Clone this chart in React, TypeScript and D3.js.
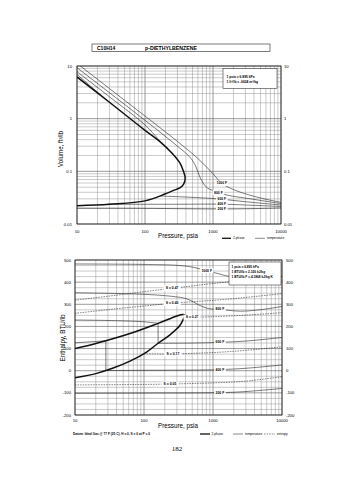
import React from 'react';
import * as d3 from 'd3';

type Pt = [number, number];

// ---------- ticks ----------
const pressureTicks = [10, 100, 1000, 10000];
const pressureTickLabels = ['10', '100', '1000', '10000'];
const volumeTicks = [10, 1, 0.1, 0.01];
const volumeTickLabels = ['10', '1', '0.1', '0.01'];
const enthalpyTicks = [500, 400, 300, 200, 100, 0, -100, -200];
const enthalpyTickLabels = ['500', '400', '300', '200', '100', '0', '-100', '-200'];

// ---------- top chart: volume (P psia, V ft3/lb) ----------
const volSatVapor: Pt[] = [[10, 6.2], [30, 2.05], [100, 0.6], [166, 0.367], [250, 0.22], [327, 0.143], [370, 0.098], [390, 0.074]];
const volSatLiquid: Pt[] = [[390, 0.074], [370, 0.057], [330, 0.049], [258, 0.043], [196, 0.037], [100, 0.0275], [30, 0.0238], [10, 0.0223]];
const volIso1000: Pt[] = [[10, 11.2], [100, 1.12], [300, 0.37], [600, 0.175], [1000, 0.09], [1350, 0.059], [2000, 0.045], [3300, 0.036], [6000, 0.0295], [10000, 0.0258]];
const volIso800: Pt[] = [[10, 9.3], [100, 0.93], [300, 0.3], [450, 0.19], [550, 0.13], [650, 0.075], [800, 0.05], [1000, 0.043], [1350, 0.0375], [2000, 0.0335], [3300, 0.0305], [6000, 0.027], [10000, 0.0244]];
const volIso600Vap: Pt[] = [[10, 7.8], [30, 2.6], [100, 0.76], [166, 0.375]];
const volIso600Liq: Pt[] = [[166, 0.034], [400, 0.0325], [800, 0.031], [1350, 0.0295], [3000, 0.0265], [10000, 0.0229]];
const volIso400Vap: Pt[] = [[10, 6.9], [28, 2.2]];
const volIso400Liq: Pt[] = [[28, 0.0237], [300, 0.0237], [1350, 0.0238], [4000, 0.0226], [10000, 0.0215]];
const volIso200: Pt[] = [[10, 0.0199], [100, 0.0198], [1350, 0.0193], [4000, 0.0196], [10000, 0.0202]];
const volIsoLabels = ['1000 F', '800 F', '600 F', '400 F', '200 F'];
const volIsoLabelP = [1350, 1200, 1350, 1350, 1350];

// ---------- bottom chart: enthalpy (P psia, H BTU/lb) ----------
const hSatVapor: Pt[] = [[10, 100], [20.6, 124], [62.7, 168], [160, 214], [300, 247], [360, 254], [395, 251]];
const hSatLiquid: Pt[] = [[395, 251], [370, 232], [333, 205], [238, 162], [160, 124], [109, 84], [62.7, 43], [35.8, 12], [20.6, -12], [10, -32]];
const hIso1000: Pt[] = [[10, 482], [100, 480], [300, 476], [500, 468], [811, 452], [1200, 438], [1600, 428], [3000, 420], [10000, 425]];
const hIso800: Pt[] = [[10, 352], [100, 345], [250, 336], [393, 327], [500, 314], [612, 298], [850, 281], [1260, 277], [2500, 269], [5000, 276], [10000, 290]];
const hIso600Vap: Pt[] = [[10, 229], [40, 226], [100, 221], [160, 214]];
const hIso600Liq: Pt[] = [[160, 124], [500, 125], [1260, 128], [3000, 134], [10000, 150]];
const hIso400Vap: Pt[] = [[10, 126], [28, 135]];
const hIso400Liq: Pt[] = [[28, 1], [100, 2], [500, 3], [1260, 5], [3000, 11], [10000, 26]];
const hIso200: Pt[] = [[10, -102], [100, -101], [1260, -99], [3000, -94], [10000, -80]];
const hIsoLabels = ['1000 F', '800 F', '600 F', '400 F', '200 F'];
const hIsoLabelP = [811, 1260, 1260, 1260, 1260];

const hS047: Pt[] = [[10, 319], [40, 341], [100, 357], [255, 372], [600, 386], [1500, 400], [4000, 414], [10000, 428]];
const hS040: Pt[] = [[10, 259], [40, 280], [100, 292], [255, 305], [600, 313], [1500, 322], [4000, 335], [10000, 348]];
const hS027: Pt[] = [[420, 243], [497, 242], [1000, 244], [3000, 251], [10000, 262]];
const hS017: Pt[] = [[100, 76], [263, 76], [1000, 82], [3000, 92], [10000, 108]];
const hS005: Pt[] = [[10, -64], [100, -62], [238, -60], [1000, -55], [3000, -47], [10000, -27]];
const entropyLabels = ['S = 0.47', 'S = 0.40', 'S = 0.27', 'S = 0.17', 'S = 0.05'];
const entropyLabelP = [255, 255, 497, 263, 238];

const topConv = ['1 psia = 6.895 kPa', '1 ft\u00b3/lb = .0624 m\u00b3/kg'];
const botConv = ['1 psia = 6.895 kPa', '1 BTU/lb = 2.326 kJ/kg', '1 BTU/lb F = 4.1868 kJ/kg K'];

const FONT = '"Liberation Sans", Arial, Helvetica, sans-serif';

// scales
const xTop = d3.scaleLog().domain([10, 10000]).range([77, 281]);
const yTop = d3.scaleLog().domain([0.01, 10]).range([224, 66]);
const xBot = d3.scaleLog().domain([10, 10000]).range([75, 282]);
const yBot = d3.scaleLinear().domain([-200, 500]).range([415, 260]);

function interp(line: Pt[], p: number, logY: boolean): number {
  const lp = Math.log10(p);
  for (let i = 0; i < line.length - 1; i++) {
    const a = Math.log10(line[i][0]);
    const b = Math.log10(line[i + 1][0]);
    if ((lp - a) * (lp - b) <= 0) {
      const t = b === a ? 0 : (lp - a) / (b - a);
      if (logY) {
        return Math.pow(10, Math.log10(line[i][1]) + t * (Math.log10(line[i + 1][1]) - Math.log10(line[i][1])));
      }
      return line[i][1] + t * (line[i + 1][1] - line[i][1]);
    }
  }
  return line[line.length - 1][1];
}

const minorVals = (() => {
  const out: number[] = [];
  for (const k of [10, 100, 1000]) for (let d = 1; d <= 9; d++) out.push(d * k);
  out.push(10000);
  return out;
})();
const volMinor = (() => {
  const out: number[] = [];
  for (const k of [0.01, 0.1, 1]) for (let d = 1; d <= 9; d++) out.push(+(d * k).toPrecision(3));
  out.push(10);
  return out;
})();
const hMinor = d3.range(-200, 501, 25);

function LineLabel({ x, y, text, fs = 3.4 }: { x: number; y: number; text: string; fs?: number }) {
  const w = text.length * fs * 0.56 + 2;
  return (
    <g>
      <rect x={x - w / 2} y={y - fs * 0.75} width={w} height={fs * 1.5} fill="white" />
      <text x={x} y={y} fontSize={fs} fontFamily={FONT} fontWeight="bold" textAnchor="middle" dominantBaseline="central">
        {text}
      </text>
    </g>
  );
}

export default function App() {
  const lineTop = d3.line<Pt>().x((d) => xTop(d[0])).y((d) => yTop(d[1])).curve(d3.curveCatmullRom.alpha(0.5));
  const lineBot = d3.line<Pt>().x((d) => xBot(d[0])).y((d) => yBot(d[1])).curve(d3.curveCatmullRom.alpha(0.5));

  const gridStroke = '#8a8a8a';
  const majorStroke = '#555';

  const volIsoLines = [volIso1000, volIso800, volIso600Liq, volIso400Liq, volIso200];
  const hIsoLines = [hIso1000, hIso800, hIso600Liq, hIso400Liq, hIso200];
  const entropyLines = [hS047, hS040, hS027, hS017, hS005];

  return (
    <svg width={355} height={480} style={{ position: 'absolute', left: 0, top: 0, background: 'white' }}>
      <defs>
        <clipPath id="clipTop">
          <rect x={77} y={66} width={204} height={158} />
        </clipPath>
        <clipPath id="clipBot">
          <rect x={75} y={260} width={207} height={155} />
        </clipPath>
      </defs>
      <rect x={0} y={0} width={355} height={480} fill="white" />

      {/* title box */}
      <rect x={92} y={44} width={178} height={7.5} fill="white" stroke="#222" strokeWidth={0.6} />
      <text x={97} y={49.8} fontSize={5} fontFamily={FONT} fontWeight="bold">C10H14</text>
      <text x={145} y={49.8} fontSize={5.2} fontFamily={FONT} fontWeight="bold">p-DIETHYLBENZENE</text>

      {/* ================= TOP CHART ================= */}
      <g>
        {minorVals.map((v, i) => (
          <line key={'tv' + i} x1={xTop(v)} x2={xTop(v)} y1={66} y2={224}
            stroke={pressureTicks.includes(v) ? majorStroke : gridStroke} strokeWidth={pressureTicks.includes(v) ? 0.6 : 0.45} />
        ))}
        {volMinor.map((v, i) => (
          <line key={'th' + i} x1={77} x2={281} y1={yTop(v)} y2={yTop(v)}
            stroke={volumeTicks.includes(v) ? majorStroke : gridStroke} strokeWidth={volumeTicks.includes(v) ? 0.6 : 0.45} />
        ))}
        <g clipPath="url(#clipTop)" fill="none" stroke="#111">
          {[volIso1000, volIso800, volIso600Vap, volIso600Liq, volIso400Vap, volIso400Liq, volIso200].map((l, i) => (
            <path key={'vi' + i} d={lineTop(l) || ''} strokeWidth={0.55} />
          ))}
          <path d={lineTop([...volSatVapor, ...volSatLiquid.slice(1)]) || ''} strokeWidth={1.5} />
        </g>
        {volIsoLines.map((l, i) => (
          <LineLabel key={'vl' + i} x={xTop(volIsoLabelP[i])} y={yTop(interp(l, volIsoLabelP[i], true))} text={volIsoLabels[i]} />
        ))}
        <rect x={77} y={66} width={204} height={158} fill="none" stroke="#111" strokeWidth={0.7} />

        {/* conversion box */}
        <rect x={223} y={68.5} width={54} height={20} fill="white" stroke="#111" strokeWidth={0.5} />
        {topConv.map((t, i) => (
          <text key={'tc' + i} x={226.5} y={77.5 + i * 5} fontSize={3.3} fontFamily={FONT} fontWeight="bold">{t}</text>
        ))}

        {/* tick labels */}
        {volumeTicks.map((v, i) => (
          <g key={'vt' + i}>
            <text x={72} y={yTop(v)} fontSize={4.2} fontFamily={FONT} textAnchor="end" dominantBaseline="central">{volumeTickLabels[i]}</text>
            <text x={284} y={yTop(v)} fontSize={4.2} fontFamily={FONT} dominantBaseline="central">{volumeTickLabels[i]}</text>
          </g>
        ))}
        {pressureTicks.map((v, i) => (
          <text key={'pt' + i} x={xTop(v)} y={231} fontSize={4.2} fontFamily={FONT} textAnchor="middle" dominantBaseline="central">{pressureTickLabels[i]}</text>
        ))}
        <text x={178} y={238} fontSize={7} fontFamily={FONT} textAnchor="middle" textLength={40} lengthAdjust="spacingAndGlyphs">Pressure,  psia</text>
        <text transform="translate(63,149) rotate(-90)" fontSize={6.5} fontFamily={FONT} textAnchor="middle" textLength={36} lengthAdjust="spacingAndGlyphs">Volume, ft³/lb</text>

        {/* legend */}
        <line x1={222} x2={231} y1={238.3} y2={238.3} stroke="#111" strokeWidth={1.3} />
        <text x={233} y={238.3} fontSize={3.2} fontFamily={FONT} dominantBaseline="central">2-phase</text>
        <line x1={255} x2={265} y1={238.3} y2={238.3} stroke="#111" strokeWidth={0.5} />
        <text x={267} y={238.3} fontSize={3.2} fontFamily={FONT} dominantBaseline="central">temperature</text>
      </g>

      {/* ================= BOTTOM CHART ================= */}
      <g>
        {minorVals.map((v, i) => (
          <line key={'bv' + i} x1={xBot(v)} x2={xBot(v)} y1={260} y2={415}
            stroke={pressureTicks.includes(v) ? majorStroke : gridStroke} strokeWidth={pressureTicks.includes(v) ? 0.6 : 0.45} />
        ))}
        {hMinor.map((v, i) => (
          <line key={'bh' + i} x1={75} x2={282} y1={yBot(v)} y2={yBot(v)}
            stroke={v % 100 === 0 ? majorStroke : gridStroke} strokeWidth={v % 100 === 0 ? 0.6 : 0.45} />
        ))}
        <g clipPath="url(#clipBot)" fill="none" stroke="#111">
          {entropyLines.map((l, i) => (
            <path key={'se' + i} d={lineBot(l) || ''} strokeWidth={0.5} strokeDasharray="1.6,1" />
          ))}
          {[hIso1000, hIso800, hIso600Vap, hIso600Liq, hIso400Vap, hIso400Liq, hIso200].map((l, i) => (
            <path key={'hi' + i} d={lineBot(l) || ''} strokeWidth={0.55} />
          ))}
          {/* tie lines across the two-phase region */}
          {[[hIso600Vap, hIso600Liq], [hIso400Vap, hIso400Liq]].map(([v, l], i) => (
            <line key={'tie' + i} x1={xBot(v[v.length - 1][0])} x2={xBot(l[0][0])}
              y1={yBot(v[v.length - 1][1])} y2={yBot(l[0][1])} strokeWidth={0.55} />
          ))}
          <path d={lineBot([...hSatVapor, ...hSatLiquid.slice(1)]) || ''} strokeWidth={1.5} />
        </g>
        {hIsoLines.map((l, i) => (
          <LineLabel key={'hl' + i} x={xBot(hIsoLabelP[i])} y={yBot(interp(l, hIsoLabelP[i], false))} text={hIsoLabels[i]} />
        ))}
        {entropyLines.map((l, i) => (
          <LineLabel key={'sl' + i} x={xBot(entropyLabelP[i])} y={yBot(interp(l, entropyLabelP[i], false))} text={entropyLabels[i]} />
        ))}
        <rect x={75} y={260} width={207} height={155} fill="none" stroke="#111" strokeWidth={0.7} />

        {/* conversion box */}
        <rect x={229} y={262} width={52} height={23} fill="white" stroke="#111" strokeWidth={0.5} />
        {botConv.map((t, i) => (
          <text key={'bc' + i} x={231.5} y={267.5 + i * 5.2} fontSize={3.2} fontFamily={FONT} fontWeight="bold">{t}</text>
        ))}

        {enthalpyTicks.map((v, i) => (
          <g key={'ht' + i}>
            <text x={71} y={yBot(v)} fontSize={4.2} fontFamily={FONT} textAnchor="end" dominantBaseline="central">{enthalpyTickLabels[i]}</text>
            <text x={286} y={yBot(v)} fontSize={4.2} fontFamily={FONT} dominantBaseline="central">{enthalpyTickLabels[i]}</text>
          </g>
        ))}
        {pressureTicks.map((v, i) => (
          <text key={'pb' + i} x={xBot(v)} y={420.5} fontSize={4.2} fontFamily={FONT} textAnchor="middle" dominantBaseline="central">{pressureTickLabels[i]}</text>
        ))}
        <text x={178} y={428} fontSize={7} fontFamily={FONT} textAnchor="middle" textLength={40} lengthAdjust="spacingAndGlyphs">Pressure,  psia</text>
        <text transform="translate(64.5,338) rotate(-90)" fontSize={6.5} fontFamily={FONT} textAnchor="middle" textLength={47} lengthAdjust="spacingAndGlyphs">Enthalpy, BTU/lb</text>

        {/* footnote */}
        <text x={73} y={435} fontSize={3.3} fontFamily={FONT} fontWeight="bold" textLength={77} lengthAdjust="spacingAndGlyphs">Datum: Ideal Gas @ 77 F (25 C), H = 0, S = 0 at P = 0</text>

        {/* legend */}
        <line x1={200} x2={210} y1={434} y2={434} stroke="#111" strokeWidth={1.3} />
        <text x={211.5} y={434} fontSize={3.2} fontFamily={FONT} dominantBaseline="central">2-phase</text>
        <line x1={233} x2={243} y1={434} y2={434} stroke="#111" strokeWidth={0.5} />
        <text x={245} y={434} fontSize={3.2} fontFamily={FONT} dominantBaseline="central">temperature</text>
        <line x1={264} x2={275} y1={434} y2={434} stroke="#111" strokeWidth={0.5} strokeDasharray="1.6,1" />
        <text x={277} y={434} fontSize={3.2} fontFamily={FONT} dominantBaseline="central">entropy</text>
      </g>

      <text x={177} y={451} fontSize={7} fontFamily={'"Liberation Serif", "DejaVu Serif", serif'} textAnchor="middle">182</text>
    </svg>
  );
}
